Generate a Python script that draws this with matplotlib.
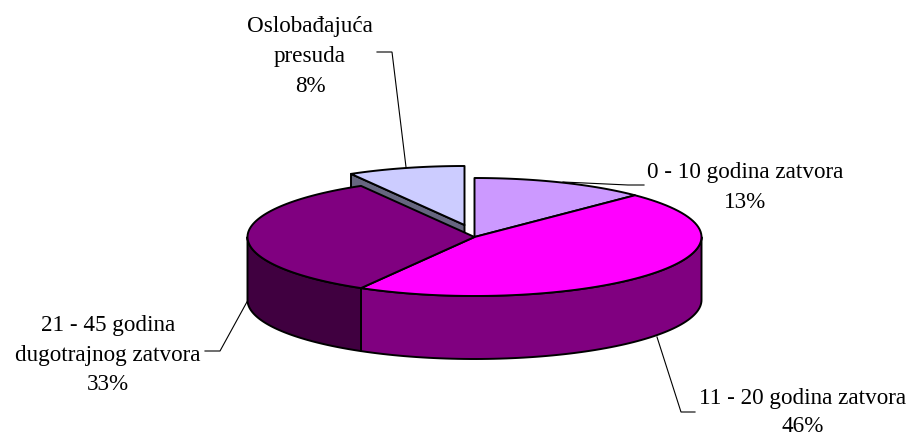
import matplotlib
matplotlib.use('Agg')
import matplotlib.pyplot as plt
import numpy as np

# Data: sentence counts, the percentages on the labels come from these
categories = ['0 - 10 godina zatvora', '11 - 20 godina zatvora',
              '21 - 45 godina\ndugotrajnog zatvora', 'Oslobađajuća\npresuda']
counts = [3, 11, 8, 2]

top_colors = ['#CC99FF', '#FF00FF', '#800080', '#CCCCFF']
side_colors = ['#664C80', '#800080', '#400040', '#666680']
explode = [(0, 0), (0, 0), (0, 0), (-10, -12)]

# label anchor (x, baseline y of the first line), line gap and leader line for each slice
label_pos = [(745, 178), (803, 404), (108, 331), (310, 32)]
line_gaps = [30, 28, 29.7, 30]
leaders = [
    [(563, 182), (628, 185), (644, 185)],
    [(657, 337), (681, 412), (695, 412)],
    [(248, 300), (220, 351), (205, 351)],
    [(406, 167), (392, 52), (377, 52)],
]

# pie geometry in pixels
cx, cy = 474.5, 237
rx, ry = 227, 59
depth = 63


def rim(a0, a1, dx=0, dy=0, drop=0):
    t = np.radians(np.linspace(a0, a1, 80))
    return np.column_stack([cx + dx + rx * np.sin(t), cy + dy + drop - ry * np.cos(t)])


fig = plt.figure(figsize=(9.12, 4.37), dpi=100)
ax = fig.add_axes([0, 0, 1, 1])
ax.set_xlim(0, 912)
ax.set_ylim(437, 0)
ax.axis('off')

edges = np.cumsum([0] + counts) / sum(counts) * 360
poly = dict(edgecolor='black', linewidth=1.4, joinstyle='round')

# leader lines go under the pie
for pts in leaders:
    ax.plot(*zip(*pts), color='black', lw=0.8, solid_joinstyle='miter', zorder=1)

# draw back to front: exploded slice and the small back slice first
for i in [3, 0, 1, 2]:
    a0, a1 = edges[i], edges[i + 1]
    dx, dy = explode[i]
    apex = np.array([cx + dx, cy + dy])

    # cut face at the start of the slice that looks towards the viewer
    if a0 > 270:
        out = rim(a0, a0, dx, dy)[0]
        face = np.array([apex, out, out + [0, depth], apex + [0, depth]])
        ax.fill(face[:, 0], face[:, 1], facecolor=side_colors[i], zorder=2, **poly)

    # outer wall, only the front half can be seen
    lo, hi = max(a0, 90), min(a1, 270)
    if lo < hi:
        wall = np.vstack([rim(lo, hi, dx, dy), rim(hi, lo, dx, dy, depth)])
        ax.fill(wall[:, 0], wall[:, 1], facecolor=side_colors[i], zorder=2, **poly)

    top = np.vstack([apex, rim(a0, a1, dx, dy)])
    ax.fill(top[:, 0], top[:, 1], facecolor=top_colors[i], zorder=2, **poly)

# labels
for name, n, (lx, ly), gap in zip(categories, counts, label_pos, line_gaps):
    pct = int(n / sum(counts) * 100 + 0.5)
    for k, line in enumerate((name + '\n%d%%' % pct).split('\n')):
        ax.text(lx, ly + k * gap, line, ha='center', va='baseline',
                family='Liberation Serif', fontsize=16.7, color='black')

fig.savefig('out.png', dpi=100)
plt.close()
